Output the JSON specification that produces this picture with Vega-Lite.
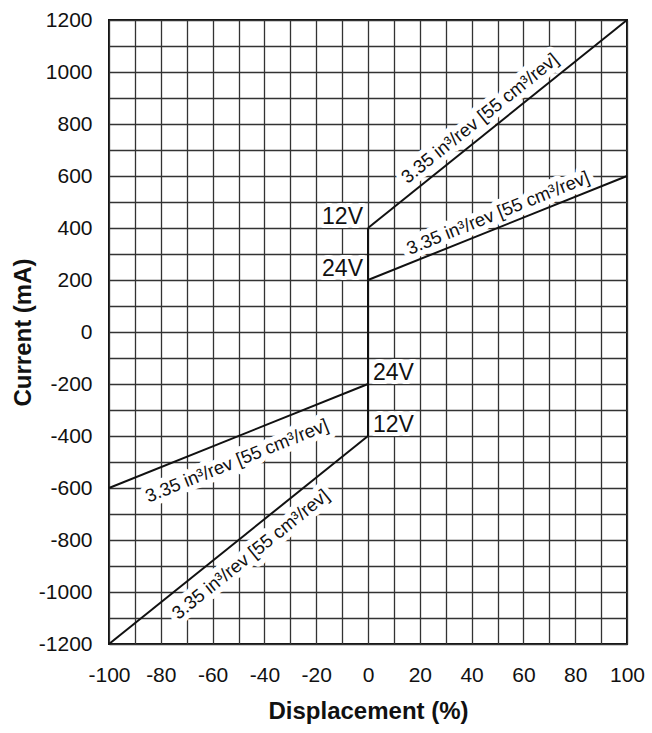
{
  "$schema": "https://vega.github.io/schema/vega-lite/v6.json",
  "width": 518,
  "height": 624,
  "autosize": "none",
  "padding": {"left": 109, "top": 20, "right": 25, "bottom": 89},
  "background": "white",
  "config": {
    "view": {"stroke": "#111", "strokeWidth": 2},
    "font": "Liberation Sans",
    "text": {"font": "Liberation Sans"}
  },
  "datasets": {
    "lines": [
      {"s": "a", "x": 0, "y": 400}, {"s": "a", "x": 100, "y": 1200},
      {"s": "b", "x": 0, "y": 200}, {"s": "b", "x": 100, "y": 600},
      {"s": "c", "x": -100, "y": -600}, {"s": "c", "x": 0, "y": -200},
      {"s": "d", "x": -100, "y": -1200}, {"s": "d", "x": 0, "y": -400},
      {"s": "e", "x": 0, "y": -400}, {"s": "e", "x": 0, "y": 400}
    ],
    "diag": [
      {"v": "12V", "x": 43.2, "y": 822, "t": "3.35 in³/rev [55 cm³/rev]"},
      {"v": "24V", "x": 50.2, "y": 458, "t": "3.35 in³/rev [55 cm³/rev]"},
      {"v": "24V", "x": -50.6, "y": -495, "t": "3.35 in³/rev [55 cm³/rev]"},
      {"v": "12V", "x": -45.3, "y": -855, "t": "3.35 in³/rev [55 cm³/rev]"}
    ],
    "volt": [
      {"side": "L", "x": 0, "y": 400, "t": "12V"},
      {"side": "L", "x": 0, "y": 200, "t": "24V"},
      {"side": "R", "x": 0, "y": -200, "t": "24V"},
      {"side": "R", "x": 0, "y": -400, "t": "12V"}
    ]
  },
  "encoding": {
    "x": {
      "field": "x", "type": "quantitative",
      "scale": {"domain": [-100, 100], "nice": false, "zero": false},
      "axis": {
        "values": [-100, -90, -80, -70, -60, -50, -40, -30, -20, -10, 0, 10, 20, 30, 40, 50, 60, 70, 80, 90, 100],
        "labelExpr": "datum.value % 20 === 0 ? '' + datum.value : ''",
        "labelOverlap": false, "labelFlush": false,
        "grid": true, "gridColor": "#333", "gridWidth": 1.3,
        "domain": false, "ticks": false, "tickSize": 0,
        "labelFontSize": 21, "labelPadding": 20, "labelColor": "#111",
        "title": "Displacement (%)", "titleFontSize": 24, "titleFontWeight": "bold",
        "titleColor": "#111", "titlePadding": 14
      }
    },
    "y": {
      "field": "y", "type": "quantitative",
      "scale": {"domain": [-1200, 1200], "nice": false, "zero": false},
      "axis": {
        "values": [-1200, -1100, -1000, -900, -800, -700, -600, -500, -400, -300, -200, -100, 0, 100, 200, 300, 400, 500, 600, 700, 800, 900, 1000, 1100, 1200],
        "labelExpr": "datum.value % 200 === 0 ? '' + datum.value : ''",
        "labelOverlap": false, "labelFlush": false,
        "grid": true, "gridColor": "#333", "gridWidth": 1.3,
        "domain": false, "ticks": false, "tickSize": 0,
        "labelFontSize": 21, "labelPadding": 17, "labelColor": "#111",
        "title": "Current (mA)", "titleFontSize": 24, "titleFontWeight": "bold",
        "titleColor": "#111", "titlePadding": 3
      }
    }
  },
  "layer": [
    {
      "data": {"name": "diag"},
      "transform": [{"filter": "datum.v === '12V'"}],
      "mark": {"type": "text", "fontSize": 18.5, "angle": -38.8, "align": "center", "baseline": "middle", "fill": "white", "stroke": "white", "strokeWidth": 11, "strokeJoin": "round"},
      "encoding": {"text": {"field": "t"}}
    },
    {
      "data": {"name": "diag"},
      "transform": [{"filter": "datum.v === '24V'"}],
      "mark": {"type": "text", "fontSize": 18.5, "angle": -21.9, "align": "center", "baseline": "middle", "fill": "white", "stroke": "white", "strokeWidth": 11, "strokeJoin": "round"},
      "encoding": {"text": {"field": "t"}}
    },
    {
      "data": {"name": "volt"},
      "transform": [{"filter": "datum.side === 'L'"}],
      "mark": {"type": "text", "fontSize": 23, "align": "right", "baseline": "alphabetic", "dx": -5, "dy": -4, "fill": "white", "stroke": "white", "strokeWidth": 8, "strokeJoin": "round"},
      "encoding": {"text": {"field": "t"}}
    },
    {
      "data": {"name": "volt"},
      "transform": [{"filter": "datum.side === 'R'"}],
      "mark": {"type": "text", "fontSize": 23, "align": "left", "baseline": "alphabetic", "dx": 5, "dy": -4, "fill": "white", "stroke": "white", "strokeWidth": 8, "strokeJoin": "round"},
      "encoding": {"text": {"field": "t"}}
    },
    {
      "data": {"name": "lines"},
      "mark": {"type": "line", "color": "#111", "strokeWidth": 2},
      "encoding": {"detail": {"field": "s"}}
    },
    {
      "data": {"name": "diag"},
      "transform": [{"filter": "datum.v === '12V'"}],
      "mark": {"type": "text", "fontSize": 18.5, "angle": -38.8, "align": "center", "baseline": "middle", "color": "#111"},
      "encoding": {"text": {"field": "t"}}
    },
    {
      "data": {"name": "diag"},
      "transform": [{"filter": "datum.v === '24V'"}],
      "mark": {"type": "text", "fontSize": 18.5, "angle": -21.9, "align": "center", "baseline": "middle", "color": "#111"},
      "encoding": {"text": {"field": "t"}}
    },
    {
      "data": {"name": "volt"},
      "transform": [{"filter": "datum.side === 'L'"}],
      "mark": {"type": "text", "fontSize": 23, "align": "right", "baseline": "alphabetic", "dx": -5, "dy": -4, "color": "#111"},
      "encoding": {"text": {"field": "t"}}
    },
    {
      "data": {"name": "volt"},
      "transform": [{"filter": "datum.side === 'R'"}],
      "mark": {"type": "text", "fontSize": 23, "align": "left", "baseline": "alphabetic", "dx": 5, "dy": -4, "color": "#111"},
      "encoding": {"text": {"field": "t"}}
    }
  ]
}
